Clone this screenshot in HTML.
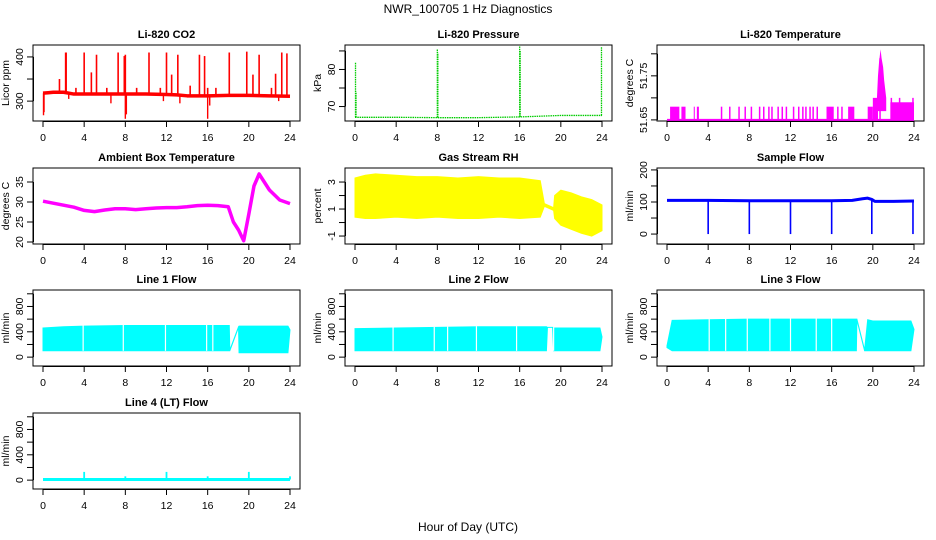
<!DOCTYPE html>
<html><head><meta charset="utf-8"><style>
body{margin:0;background:#fff;}
svg{display:block;font-family:"Liberation Sans",sans-serif;}
text{fill:#000;}
</style></head><body>
<svg id="c" width="936" height="540" viewBox="0 0 936 540" xmlns="http://www.w3.org/2000/svg">
<text x="468" y="13" font-size="12" text-anchor="middle">NWR_100705  1 Hz Diagnostics</text>
<text x="468" y="531" font-size="12" text-anchor="middle">Hour of Day (UTC)</text>
</svg>
<script>
// ---- data ----
const xTicks=[0,4,8,12,16,20,24];
// CO2
const co2BaseH=[0,0.5,1,2,3,4,6,8,10,12,13,14,16,18,20,22,24];
const co2BaseV=[318,319,320,320,316,316,316,316,316,315,314,312,312,313,313,312,311];
const co2SpikeH=[1.6,2.2,2.25,3.2,4,4.7,5.2,6.2,7.3,7.9,8,9.1,10.3,11.4,12,12.5,13.1,14.3,15.2,15.7,16,16.8,18.1,19.8,20.4,21,22.2,22.6,23.2,23.7];
const co2SpikeV=[350,410,410,330,410,365,405,330,410,402,405,330,410,330,410,360,405,335,405,402,330,330,410,412,360,405,330,362,410,408];
const co2DipH=[0.05,0.1,2.5,6.6,8,8.1,11.7,13.3,16,16.2,22.9];
const co2DipV=[268,275,305,295,260,270,300,295,260,290,300];
// Pressure
const presBaseH=[0,4,8,12,16,20,24];
const presBaseV=[67.1,67.1,67.0,67.0,67.2,67.6,67.6];
const presSpikeH=[0.05,0.1,8,8.05,16,16.05,23.95];
const presSpikeV=[82,74,85.5,84.5,86.2,85,86];
// Li-820 temperature
const tBlockS=[0.3,1.4,2.6,2.9,15.5,17.6,19.5,20.0,21.7];
const tBlockE=[1.2,1.8,2.7,3.1,16.2,18.2,20.0,20.5,24.0];
const tBlockV=[51.68,51.68,51.68,51.68,51.68,51.68,51.68,51.70,51.69];
const tBarH=[5.3,6.1,7.0,7.6,8.2,9.0,9.4,9.9,10.2,10.8,11.2,11.6,12.3,12.8,13.2,13.5,13.9,14.2,14.6,16.6,17.0,20.7,21.8,22.6,23.9];
const tBarV=[51.68,51.68,51.68,51.68,51.68,51.68,51.68,51.68,51.68,51.68,51.68,51.68,51.68,51.68,51.68,51.68,51.68,51.68,51.68,51.68,51.68,51.79,51.70,51.70,51.70];
const tPeakH=[20.4,20.5,20.6,20.75,20.85,21.0,21.1,21.3];
const tPeakV=[51.70,51.75,51.78,51.81,51.79,51.77,51.74,51.70];
// Ambient box temperature
const ambH=[0,1,2,3,4,5,6,7,8,9,10,11,12,13,14,15,16,17,18,18.5,19,19.5,20,20.5,21,21.5,22,23,24];
const ambV=[30.2,29.7,29.2,28.7,27.9,27.6,28.0,28.3,28.3,28.1,28.3,28.5,28.6,28.6,28.8,29.1,29.2,29.1,28.8,25,23,20.3,27,34,37,35,33,30.5,29.6];
// Gas stream RH band
const rhH=[0,1,2,4,6,8,10,12,14,16,18,18.4,19.3,19.4,20,21,22,23,24];
const rhLo=[0.4,0.3,0.3,0.4,0.3,0.4,0.3,0.3,0.4,0.3,0.4,1.2,0.9,0.3,-0.2,-0.5,-0.8,-1.0,-0.6];
const rhHi=[3.3,3.5,3.6,3.5,3.4,3.4,3.3,3.4,3.3,3.3,3.1,1.4,1.1,2.0,2.4,2.2,1.9,1.7,1.3];
// Sample flow
const sfH=[0,4,8,12,16,18,19,19.5,19.9,20.2,22,24];
const sfV=[105,105,104,104,104,105,110,112,108,102,102,103];
const sfDipH=[4,8,12,16,19.9,23.9];
const sfDipV=[0,0,0,0,0,0];
// Line flows (bands)
const l1H=[0,2,4,8,12,16,18.1,18.15,19.0,19.05,20,22,23.8,24];
const l1Lo=[100,100,100,100,100,100,100,100,470,70,70,70,70,430];
const l1Hi=[460,480,490,500,500,500,500,110,480,490,490,490,490,430];
const l1GapH=[3.9,7.8,11.9,15.9,16.5];
const l2H=[0,4,8,12,16,18.6,18.7,19.2,19.3,22,23.8,24];
const l2Lo=[100,100,100,100,100,100,470,470,100,100,100,320];
const l2Hi=[450,460,470,480,480,480,470,470,460,460,460,320];
const l2GapH=[3.7,7.7,9.0,11.8,15.7,19.3];
const l3H=[0,0.5,4,8,12,16,18.4,18.45,19.2,19.5,20,23.7,24];
const l3Lo=[150,100,100,100,100,100,100,590,100,100,100,100,440];
const l3Hi=[180,580,590,600,600,600,600,600,110,590,570,570,440];
const l3GapH=[4.1,5.7,7.8,10.0,12.0,14.5,16.0];
// Line 4
const l4SpikeH=[4,8,12,16,20,24];
const l4SpikeV=[130,60,130,60,130,60];
const l4Base=10;
</script>
<script>
const svg=document.getElementById('c');
const NS='http://www.w3.org/2000/svg';
const colX=[43,355,667], rowT=[45,168,290,413], rowB=[121,244,366,489];
function mk(tag,attrs,parent){const e=document.createElementNS(NS,tag);for(const k in attrs)e.setAttribute(k,attrs[k]);(parent||svg).appendChild(e);return e;}
function panel(c,r,ymin,ymax,ticks,labels,ylab,title,name){
  const x0=colX[c], x1=x0+247, L=x0-10, R=x0+257, T=rowT[r], B=rowB[r];
  const g=mk('g',{});
  
  
  const X=h=>x0+h*(x1-x0)/24;
  const Y=v=>B-(v-ymin)/(ymax-ymin)*(B-T);
  const t=mk('text',{x:(L+R)/2,y:T-7,'font-size':11,'font-weight':'bold','text-anchor':'middle'},g);t.textContent=title;
  
  
  const box=mk('rect',{x:L,y:T,width:R-L,height:B-T,fill:'none',stroke:'#000','stroke-width':1},g);
  
  
  const ax=mk('g',{},g);
  
  
  mk('line',{x1:X(0),x2:X(24),y1:B+0.5,y2:B+0.5,stroke:'#000'},ax);
  xTicks.forEach(h=>{mk('line',{x1:X(h),x2:X(h),y1:B,y2:B+6,stroke:'#000'},ax);
    const tt=mk('text',{x:X(h),y:B+20,'font-size':10.5,'text-anchor':'middle'},ax);tt.textContent=h;});
  const ay=mk('g',{},g);
  
  
  mk('line',{x1:L+0.5,x2:L+0.5,y1:Y(ticks[0]),y2:Y(ticks[ticks.length-1]),stroke:'#000'},ay);
  ticks.forEach(v=>{const yy=Y(v);mk('line',{x1:L-6,x2:L,y1:yy,y2:yy,stroke:'#000'},ay);
    if(labels.includes(v)){const tt=mk('text',{x:0,y:0,'font-size':10.5,'text-anchor':'middle',transform:`translate(${L-10},${yy}) rotate(-90)`},ay);tt.textContent=v;}});
  const yt=mk('text',{x:0,y:0,'font-size':10.5,'text-anchor':'middle',transform:`translate(${L-24},${(T+B)/2}) rotate(-90)`},g);yt.textContent=ylab;
  
  
  const clip='cl'+c+r;
  const cp=mk('clipPath',{id:clip},g);mk('rect',{x:L,y:T,width:R-L,height:B-T},cp);
  const d=mk('g',{'clip-path':`url(#${clip})`},g);
  
  
  return {X,Y,g:d};
}
function poly(p,H,V,col,w,extra){return mk('polyline',Object.assign({points:H.map((h,i)=>p.X(h)+','+p.Y(V[i])).join(' '),fill:'none',stroke:col,'stroke-width':w,'stroke-linejoin':'round'},extra||{}),p.g);}
function vbar(p,h,v0,v1,col,w,extra){return mk('line',Object.assign({x1:p.X(h),x2:p.X(h),y1:p.Y(v0),y2:p.Y(v1),stroke:col,'stroke-width':w},extra||{}),p.g);}
function band(p,H,Lo,Hi,col){const pts=H.map((h,i)=>p.X(h)+','+p.Y(Hi[i])).concat(H.slice().reverse().map((h,j)=>{const i=H.length-1-j;return p.X(h)+','+p.Y(Lo[i]);}));
  return mk('polygon',{points:pts.join(' '),fill:col,stroke:col,'stroke-width':1},p.g);}
function interp(H,V,h){for(let i=1;i<H.length;i++)if(h<=H[i]){const f=(h-H[i-1])/(H[i]-H[i-1]);return V[i-1]+f*(V[i]-V[i-1]);}return V[V.length-1];}

// CO2
let p=panel(0,0,255,427,[300,350,400],[300,400],'Licor ppm','Li-820 CO2','co2');
poly(p,co2BaseH,co2BaseV,'#f00',3.5);
co2SpikeH.forEach((h,i)=>{const e=vbar(p,h,interp(co2BaseH,co2BaseV,h),co2SpikeV[i],'#f00',1.6);});
co2DipH.forEach((h,i)=>{const e=vbar(p,h,interp(co2BaseH,co2BaseV,h),co2DipV[i],'#f00',1.4);});
// Pressure
p=panel(1,0,66.1,86.6,[70,75,80,85],[70,80],'kPa','Li-820 Pressure','pressure');
poly(p,presBaseH,presBaseV,'#0c0',1.3,{'stroke-dasharray':'1.5,0.8'});
presSpikeH.forEach((h,i)=>{const e=vbar(p,h,interp(presBaseH,presBaseV,h),presSpikeV[i],'#0c0',1.3,{'stroke-dasharray':'1.5,0.8'});});
// Temperature
p=panel(2,0,51.6475,51.82,[51.65,51.7,51.75,51.8],[51.65,51.75],'degrees C','Li-820 Temperature','li820-temp');
mk('line',{x1:p.X(0),x2:p.X(24),y1:p.Y(51.65),y2:p.Y(51.65),stroke:'#f0f','stroke-width':2},p.g);
tBlockS.forEach((s,i)=>{const r=mk('rect',{x:p.X(s),y:p.Y(tBlockV[i]),width:p.X(tBlockE[i])-p.X(s),height:p.Y(51.65)-p.Y(tBlockV[i]),fill:'#f0f'},p.g);});
tBarH.forEach((h,i)=>{const e=vbar(p,h,51.65,tBarV[i],'#f0f',1.5);});
{const pts=[p.X(tPeakH[0])+','+p.Y(51.67)].concat(tPeakH.map((h,i)=>p.X(h)+','+p.Y(tPeakV[i]))).concat([p.X(tPeakH[tPeakH.length-1])+','+p.Y(51.67)]);
 const e=mk('polygon',{points:pts.join(' '),fill:'#f0f'},p.g);}
// Ambient
p=panel(0,1,19.5,38.5,[20,25,30,35],[20,25,30,35],'degrees C','Ambient Box Temperature','ambient-temp');
poly(p,ambH,ambV,'#f0f',3.5);
// RH
p=panel(1,1,-1.59,4.04,[-1,0,1,2,3],[-1,1,3],'percent','Gas Stream RH','gas-rh');
band(p,rhH,rhLo,rhHi,'#ff0');
// Sample flow
p=panel(2,1,-31,206,[0,50,100,150,200],[0,100,200],'ml/min','Sample Flow','sample-flow');
poly(p,sfH,sfV,'#00f',3);
sfDipH.forEach((h,i)=>{const e=vbar(p,h,interp(sfH,sfV,h),sfDipV[i],'#00f',1.6);});
// Line flows
const lt=[0,200,400,600,800,1000], ll=[0,400,800];
function flow(c,r,H,Lo,Hi,G,title,name){const q=panel(c,r,-140,1060,lt,ll,'ml/min',title,name);band(q,H,Lo,Hi,'#0ff');
  G.forEach(h=>{const e=vbar(q,h,interp(H,Lo,h),interp(H,Hi,h)+10,'#fff',1.2);});return q;}
flow(0,2,l1H,l1Lo,l1Hi,l1GapH,'Line 1 Flow','line1-flow');
flow(1,2,l2H,l2Lo,l2Hi,l2GapH,'Line 2 Flow','line2-flow');
flow(2,2,l3H,l3Lo,l3Hi,l3GapH,'Line 3 Flow','line3-flow');
p=panel(0,3,-140,1060,lt,ll,'ml/min','Line 4 (LT) Flow','line4-flow');
mk('line',{x1:p.X(0),x2:p.X(24),y1:p.Y(l4Base),y2:p.Y(l4Base),stroke:'#0ff','stroke-width':3},p.g);
l4SpikeH.forEach((h,i)=>{const e=vbar(p,h,l4Base,l4SpikeV[i],'#0ff',1.8);});
</script>
</body></html>
